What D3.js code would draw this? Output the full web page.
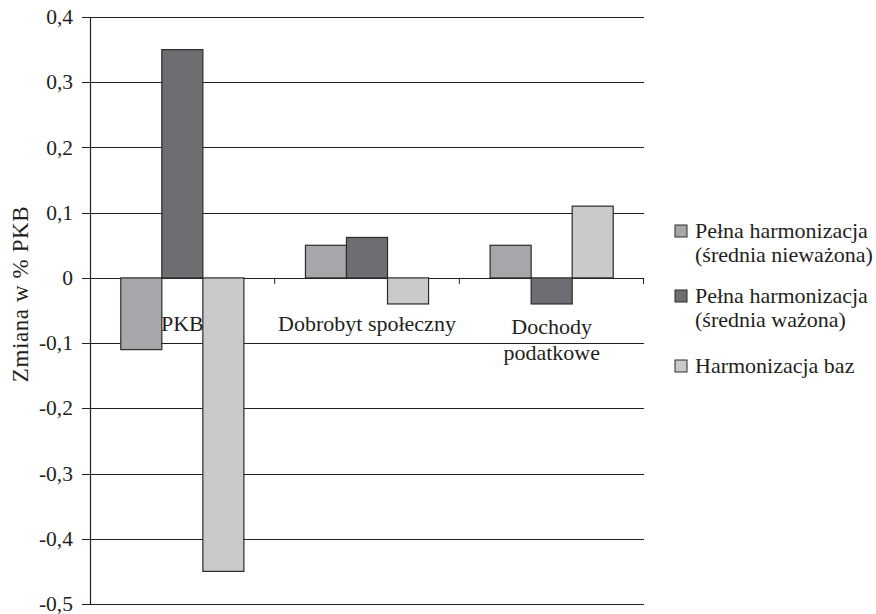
<!DOCTYPE html>
<html>
<head>
<meta charset="utf-8">
<script src="https://cdn.jsdelivr.net/npm/d3@7"></script>
<style>
  body { margin: 0; background: #fff; }
</style>
</head>
<body>
<div id="chart"></div>
<script>
////////////////////////////////////////////////////////////////////////
// Data

let categories = ["PKB", "Dobrobyt społeczny", "Dochody podatkowe"];
let categoryLines = [["PKB"], ["Dobrobyt społeczny"], ["Dochody", "podatkowe"]];
let seriesNames = [
  ["Pełna harmonizacja", "(średnia nieważona)"],
  ["Pełna harmonizacja", "(średnia ważona)"],
  ["Harmonizacja baz"]
];
let unweighted = [-0.11, 0.05, 0.05];
let weighted = [0.35, 0.062, -0.04];
let baseHarm = [-0.45, -0.04, 0.11];
let yTicks = [0.4, 0.3, 0.2, 0.1, 0, -0.1, -0.2, -0.3, -0.4, -0.5];
let colors = ["#a6a7ab", "#6d6e72", "#c9cacc"];

////////////////////////////////////////////////////////////////////////
// Scales

let width = 876, height = 614;
let plotLeft = 90, plotRight = 644, plotTop = 17, plotBottom = 604;
let serif = "'Liberation Serif', 'DejaVu Serif', serif";

let series = [unweighted, weighted, baseHarm];

let x0 = d3.scaleBand().domain(categories).range([plotLeft, plotRight]).paddingInner(0).paddingOuter(0);
// Excel-like gap width of 150%: bar group takes 3 / 4.5 of a category
let groupWidth = x0.bandwidth() * 3 / 4.5;
let x1 = d3.scaleBand().domain(d3.range(series.length)).range([0, groupWidth]);
let y = d3.scaleLinear().domain([-0.5, 0.4]).range([plotBottom, plotTop]);

let fmt = d => d === 0 ? "0" : d3.format(".1f")(d).replace(".", ",").replace("−", "-");

let svg = d3.select("#chart").append("svg")
  .attr("width", width)
  .attr("height", height)
  .attr("font-family", serif)
  .attr("fill", "#231f20");

// gridlines
svg.append("g")
  .selectAll("line")
  .data(yTicks)
  .enter()
  .append("line")
  .attr("x1", plotLeft - 8)
  .attr("x2", plotRight)
  .attr("y1", d => Math.round(y(d)) + 0.5)
  .attr("y2", d => Math.round(y(d)) + 0.5)
  .attr("stroke", "#231f20")
  .attr("stroke-width", 1.1);

// y tick labels
svg.append("g")
  .selectAll("text")
  .data(yTicks)
  .enter()
  .append("text")
  .attr("x", plotLeft - 17)
  .attr("y", d => y(d))
  .attr("dy", "0.33em")
  .attr("text-anchor", "end")
  .attr("font-size", 21.5)
  .text(fmt);

// bars
let groups = svg.append("g")
  .selectAll("g")
  .data(categories)
  .enter()
  .append("g")
  .attr("transform", d => "translate(" + (x0(d) + (x0.bandwidth() - groupWidth) / 2) + ",0)");

groups.selectAll("rect")
  .data((d, i) => series.map((s, k) => ({ k: k, v: s[i] })))
  .enter()
  .append("rect")
  .attr("x", d => x1(d.k))
  .attr("width", x1.bandwidth())
  .attr("y", d => y(Math.max(0, d.v)))
  .attr("height", d => Math.abs(y(d.v) - y(0)))
  .attr("fill", d => colors[d.k])
  .attr("stroke", "#2b2b2b")
  .attr("stroke-width", 1.2);

// y axis line
svg.append("line")
  .attr("x1", plotLeft + 0.5).attr("x2", plotLeft + 0.5)
  .attr("y1", plotTop).attr("y2", plotBottom + 1)
  .attr("stroke", "#231f20")
  .attr("stroke-width", 1.2);

// category tick marks on zero line
svg.append("g")
  .selectAll("line")
  .data(categories.slice(1).concat(["end"]))
  .enter()
  .append("line")
  .attr("x1", d => d === "end" ? plotRight - 0.5 : x0(d))
  .attr("x2", d => d === "end" ? plotRight - 0.5 : x0(d))
  .attr("y1", y(0))
  .attr("y2", y(0) + 6)
  .attr("stroke", "#231f20")
  .attr("stroke-width", 1);

// category labels
svg.append("g")
  .selectAll("text")
  .data(categories)
  .enter()
  .append("text")
  .attr("x", d => x0(d) + x0.bandwidth() / 2)
  .attr("y", (d, i) => categoryLines[i].length > 1 ? 334 : 331)
  .attr("text-anchor", "middle")
  .attr("font-size", 22)
  .each(function (d, i) {
    d3.select(this).selectAll("tspan")
      .data(categoryLines[i])
      .enter()
      .append("tspan")
      .attr("x", x0(d) + x0.bandwidth() / 2)
      .attr("dy", (t, j) => j === 0 ? 0 : 26)
      .text(t => t);
  });

// y axis title
svg.append("text")
  .attr("transform", "translate(28," + 294 + ") rotate(-90)")
  .attr("text-anchor", "middle")
  .attr("font-size", 23)
  .attr("letter-spacing", 0.6)
  .text("Zmiana w % PKB");

// legend
let legendTops = [225, 290, 360];
let legend = svg.append("g")
  .selectAll("g")
  .data(seriesNames)
  .enter()
  .append("g")
  .attr("transform", (d, i) => "translate(675," + legendTops[i] + ")");

legend.append("rect")
  .attr("width", 12)
  .attr("height", 12)
  .attr("fill", (d, i) => colors[i])
  .attr("stroke", "#2b2b2b")
  .attr("stroke-width", 1);

legend.append("text")
  .attr("x", 20)
  .attr("y", 13)
  .attr("font-size", 22)
  .selectAll("tspan")
  .data(d => d)
  .enter()
  .append("tspan")
  .attr("x", 20)
  .attr("dy", (t, j) => j === 0 ? 0 : 24)
  .text(t => t);
</script>
</body>
</html>
